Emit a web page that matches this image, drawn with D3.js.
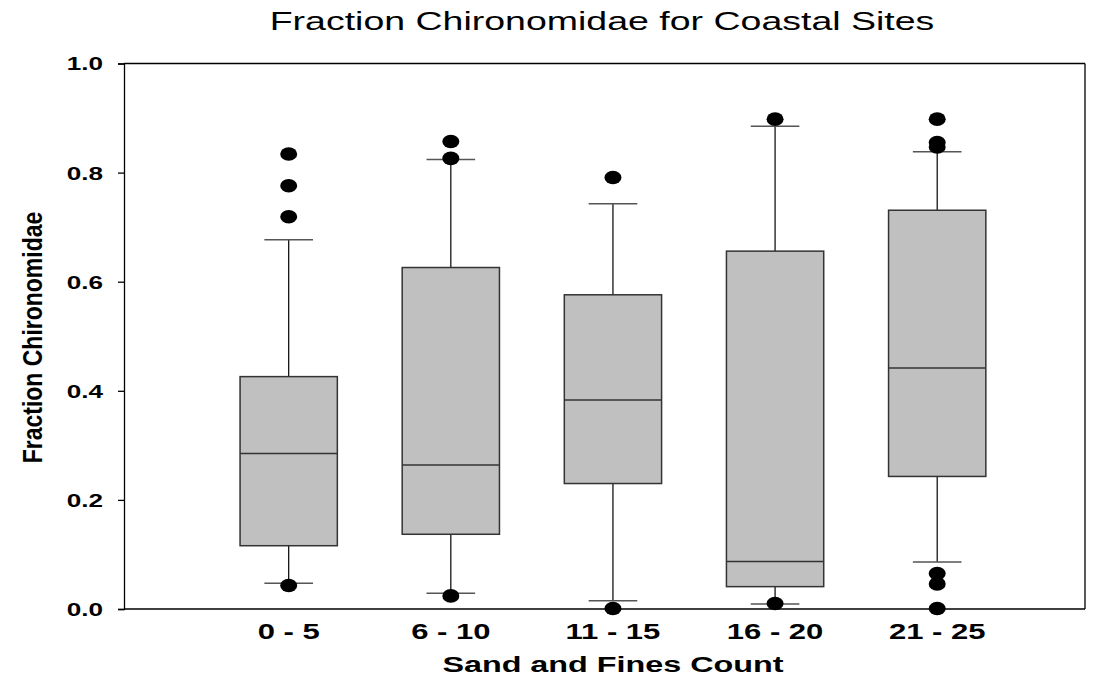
<!DOCTYPE html>
<html>
<head>
<meta charset="utf-8">
<script src="https://cdn.jsdelivr.net/npm/d3@7"></script>
<style>
  html, body { margin: 0; padding: 0; background: #fff; }
  svg { display: block; }
  text { font-family: "Liberation Sans", Arial, sans-serif; fill: #000; }
</style>
</head>
<body>
<svg id="chart" width="1097" height="678"></svg>
<script>
// Box-plot summaries for each sand-and-fines count class
const categories  = ["0 - 5", "6 - 10", "11 - 15", "16 - 20", "21 - 25"];
const whiskerLow  = [0.047, 0.029, 0.015, 0.009, 0.086];
const quartile1   = [0.116, 0.137, 0.230, 0.041, 0.243];
const medians     = [0.285, 0.264, 0.383, 0.087, 0.442];
const quartile3   = [0.426, 0.626, 0.576, 0.656, 0.731];
const whiskerHigh = [0.677, 0.824, 0.743, 0.885, 0.838];
const outliers    = [
  [0.834, 0.776, 0.719, 0.043],
  [0.857, 0.826, 0.024],
  [0.791, 0.001],
  [0.898, 0.010],
  [0.898, 0.855, 0.847, 0.065, 0.046, 0.001]
];
const yTicks = [0.0, 0.2, 0.4, 0.6, 0.8, 1.0];

const svg = d3.select("#chart");

// Plot frame
const plot = { left: 124, right: 1085, top: 63.5, bottom: 609 };

const y = d3.scaleLinear().domain([0, 1]).range([plot.bottom, plot.top]);
const x = d3.scaleLinear().domain([1, categories.length]).range([288.7, 937.2]);
const step = x(2) - x(1);
const boxW = step * 0.6;
const capW = step * 0.3;

// Text in this chart is drawn horizontally widened
const SX = 1.45;

// Title
svg.append("text")
  .attr("transform", `translate(602,29.5) scale(1.5,1)`)
  .attr("text-anchor", "middle")
  .style("font-size", "25px")
  .text("Fraction Chironomidae for Coastal Sites");

// Frame lines (top and right)
svg.append("line")
  .attr("x1", plot.left).attr("x2", plot.right)
  .attr("y1", plot.top).attr("y2", plot.top)
  .attr("stroke", "#000").attr("stroke-width", 1.3);
svg.append("line")
  .attr("x1", plot.right).attr("x2", plot.right)
  .attr("y1", plot.top).attr("y2", plot.bottom)
  .attr("stroke", "#000").attr("stroke-width", 1.3);

// Y axis
const yAxis = svg.append("g")
  .attr("transform", `translate(${plot.left},0)`)
  .call(d3.axisLeft(y).tickValues(yTicks).tickSize(6).tickFormat(d3.format(".1f")));
yAxis.select(".domain").attr("stroke", "#000").attr("stroke-width", 1.3);
yAxis.selectAll(".tick line").attr("stroke", "#000").attr("stroke-width", 1.3);
yAxis.selectAll(".tick text").remove();
yAxis.selectAll(".tick").append("text")
  .attr("transform", `translate(-21,0) scale(${SX},1)`)
  .attr("text-anchor", "end")
  .attr("dy", "0.36em")
  .style("font-size", "18px")
  .style("font-weight", "bold")
  .text(d => d3.format(".1f")(d));

// X axis line
svg.append("line")
  .attr("x1", plot.left).attr("x2", plot.right)
  .attr("y1", plot.bottom).attr("y2", plot.bottom)
  .attr("stroke", "#000").attr("stroke-width", 1.3);

// X category labels
svg.append("g").selectAll("text")
  .data(categories)
  .join("text")
  .attr("transform", (d, i) => `translate(${x(i + 1)},638.7) scale(1.41,1)`)
  .attr("text-anchor", "middle")
  .style("font-size", "22px")
  .style("font-weight", "bold")
  .text(d => d);

// Axis titles
svg.append("text")
  .attr("transform", `translate(${x(3)},671.5) scale(1.47,1)`)
  .attr("text-anchor", "middle")
  .style("font-size", "22px")
  .style("font-weight", "bold")
  .text("Sand and Fines Count");

svg.append("text")
  .attr("transform", `translate(41.5,337.5) rotate(-90) scale(1,1.19)`)
  .attr("text-anchor", "middle")
  .style("font-size", "23px")
  .style("font-weight", "bold")
  .text("Fraction Chironomidae");

// Boxes
const boxes = categories.map((c, i) => ({
  i, lo: whiskerLow[i], q1: quartile1[i], med: medians[i],
  q3: quartile3[i], hi: whiskerHigh[i], out: outliers[i]
}));

const g = svg.append("g");
const box = g.selectAll("g.box").data(boxes).join("g").attr("class", "box");

// Whiskers
box.append("line")
  .attr("x1", d => x(d.i + 1)).attr("x2", d => x(d.i + 1))
  .attr("y1", d => y(d.q3)).attr("y2", d => y(d.hi))
  .attr("stroke", "#000").attr("stroke-width", 1.2);
box.append("line")
  .attr("x1", d => x(d.i + 1)).attr("x2", d => x(d.i + 1))
  .attr("y1", d => y(d.q1)).attr("y2", d => y(d.lo))
  .attr("stroke", "#000").attr("stroke-width", 1.2);

// Whisker caps
box.append("line")
  .attr("x1", d => x(d.i + 1) - capW / 2).attr("x2", d => x(d.i + 1) + capW / 2)
  .attr("y1", d => y(d.hi)).attr("y2", d => y(d.hi))
  .attr("stroke", "#555").attr("stroke-width", 1.5);
box.append("line")
  .attr("x1", d => x(d.i + 1) - capW / 2).attr("x2", d => x(d.i + 1) + capW / 2)
  .attr("y1", d => y(d.lo)).attr("y2", d => y(d.lo))
  .attr("stroke", "#555").attr("stroke-width", 1.5);

// Interquartile box
box.append("rect")
  .attr("x", d => x(d.i + 1) - boxW / 2)
  .attr("width", boxW)
  .attr("y", d => y(d.q3))
  .attr("height", d => y(d.q1) - y(d.q3))
  .attr("fill", "#c0c0c0")
  .attr("stroke", "#333").attr("stroke-width", 1.5);

// Median
box.append("line")
  .attr("x1", d => x(d.i + 1) - boxW / 2).attr("x2", d => x(d.i + 1) + boxW / 2)
  .attr("y1", d => y(d.med)).attr("y2", d => y(d.med))
  .attr("stroke", "#333").attr("stroke-width", 1.5);

// Outliers
box.selectAll("ellipse")
  .data(d => d.out.map(v => ({ i: d.i, v })))
  .join("ellipse")
  .attr("cx", d => x(d.i + 1))
  .attr("cy", d => y(d.v))
  .attr("rx", 8.5)
  .attr("ry", 6.8)
  .attr("fill", "#000");
</script>
</body>
</html>
